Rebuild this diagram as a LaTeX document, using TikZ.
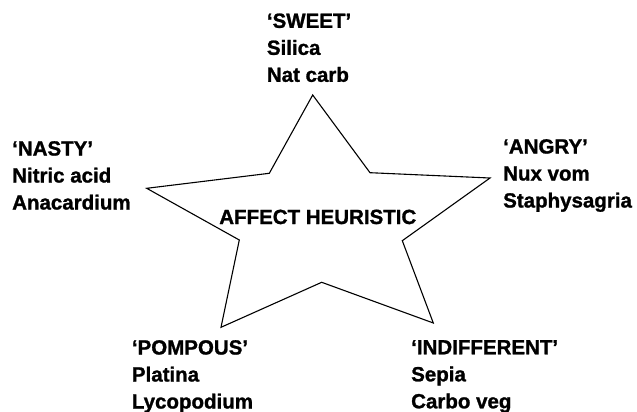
\documentclass[tikz,border=0pt]{standalone}
\usepackage{fontspec}
\setmainfont{Liberation Sans}[BoldFeatures={FakeBold=1.2}]
\usetikzlibrary{positioning}

\begin{document}
\begin{tikzpicture}[
    x=1pt, y=-1pt,
    starline/.style={draw=black, line width=1.1pt, line join=miter},
    tiplabel/.style={anchor=north west, inner sep=0pt, align=left,
                     font=\fontsize{20.5}{27}\selectfont\bfseries},
    heading/.style={anchor=base, inner sep=0pt,
                    font=\fontsize{20.5}{27}\selectfont\bfseries}
]
\useasboundingbox (0,0) rectangle (637,412);

% star outline
\coordinate (Top)      at (312.7,95);
\coordinate (InTR)     at (370,172.7);
\coordinate (RightTip) at (490,178);
\coordinate (InR)      at (402.3,240.7);
\coordinate (BotR)     at (433.3,323);
\coordinate (InBot)    at (321.7,282.3);
\coordinate (BotL)     at (221,327.3);
\coordinate (InL)      at (239.3,240);
\coordinate (LeftTip)  at (146.7,188.3);
\coordinate (InTL)     at (269.3,173.3);

\draw[starline] (Top) -- (InTR) -- (RightTip) -- (InR) -- (BotR) -- (InBot)
    -- (BotL) -- (InL) -- (LeftTip) -- (InTL) -- cycle;

\node[heading] (Affect) at (317.8,224) {AFFECT HEURISTIC};

\node[tiplabel] (Sweet) at (266.7,13.3) {`SWEET'\\ Silica\\ Nat carb};
\node[tiplabel] (Nasty) at (12,141) {`NASTY'\\ Nitric acid\\ Anacardium};
\node[tiplabel] (Angry) at (503,139) {`ANGRY'\\ Nux vom\\ Staphysagria};
\node[tiplabel] (Pompous) at (131.7,340) {`POMPOUS'\\ Platina\\ Lycopodium};
\node[tiplabel] (Indifferent) at (411,340) {`INDIFFERENT'\\ Sepia\\ Carbo veg};

\end{tikzpicture}
\end{document}
